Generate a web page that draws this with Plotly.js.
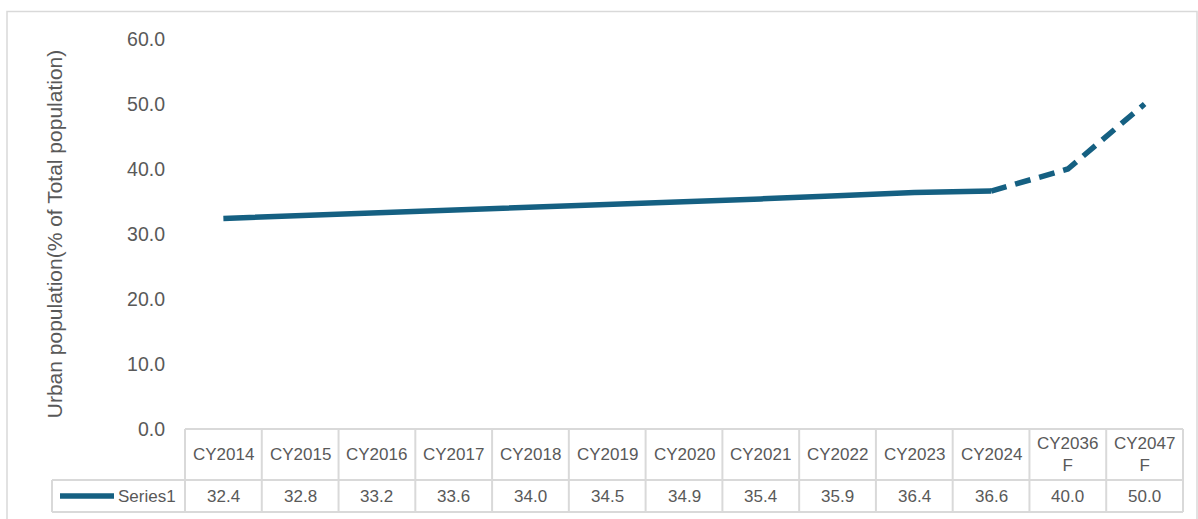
<!DOCTYPE html>
<html>
<head>
<meta charset="utf-8">
<script src="https://cdn.plot.ly/plotly-3.0.1.min.js"></script>
<style>
  html, body { margin: 0; padding: 0; background: #ffffff; }
  #chart { width: 1198px; height: 519px; }
</style>
</head>
<body>
<div id="chart"></div>
<script>
// Urban population share, actuals then forecasts (F)
const categories = ['CY2014', 'CY2015', 'CY2016', 'CY2017', 'CY2018', 'CY2019', 'CY2020',
                    'CY2021', 'CY2022', 'CY2023', 'CY2024', 'CY2036<br>F', 'CY2047<br>F'];
const values = [32.4, 32.8, 33.2, 33.6, 34.0, 34.5, 34.9, 35.4, 35.9, 36.4, 36.6, 40.0, 50.0];
const seriesName = 'Series1';
const firstForecast = 11;           // index of the first forecast point
const yTicks = [0, 10, 20, 30, 40, 50, 60];

const W = 1198, H = 519;
const M = { l: 185, r: 15, t: 39, b: 90 };
const plotW = W - M.l - M.r, plotH = H - M.t - M.b;
const px = v => (v - M.l) / plotW;            // pixel column -> paper x
const py = v => (H - M.b - v) / plotH;        // pixel row -> paper y

const lineColor = '#156082';
const gridColor = '#d9d9d9';
const textColor = '#595959';
const fontFamily = '"Liberation Sans", Arial, sans-serif';

const n = categories.length;
const idx = categories.map((_, i) => i);

// solid history + dashed forecast segment
const traces = [
  {
    x: idx.slice(0, firstForecast),
    y: values.slice(0, firstForecast),
    type: 'scatter', mode: 'lines', name: seriesName,
    line: { color: lineColor, width: 5.5 },
    hoverinfo: 'x+y'
  },
  {
    x: idx.slice(firstForecast - 1),
    y: values.slice(firstForecast - 1),
    type: 'scatter', mode: 'lines', name: seriesName,
    line: { color: lineColor, width: 5.5, dash: '16px,9px' },
    hoverinfo: 'x+y'
  }
];

// data table grid under the plot
const rowTop = H - M.b, rowMid = 480, rowBot = 512, legendLeft = 52;
const hLine = (x0, x1, y) => ({ type: 'line', xref: 'paper', yref: 'paper',
  x0: px(x0), x1: px(x1), y0: py(y), y1: py(y), line: { color: gridColor, width: 2 } });
const vLineP = (xp, y0, y1) => ({ type: 'line', xref: 'paper', yref: 'paper',
  x0: xp, x1: xp, y0: py(y0), y1: py(y1), line: { color: gridColor, width: 2 } });

const shapes = [
  // outer chart frame
  { type: 'rect', xref: 'paper', yref: 'paper', x0: px(7), x1: px(1197), y0: py(11.5), y1: py(540),
    line: { color: gridColor, width: 1.5 }, layer: 'below' },
  hLine(M.l, W - M.r, rowTop),
  hLine(legendLeft, W - M.r, rowMid),
  hLine(legendLeft, W - M.r, rowBot),
  vLineP(px(legendLeft), rowMid, rowBot)
];
for (let k = 0; k <= n; k++) shapes.push(vLineP(k / n, rowTop, rowBot));
// legend key inside the table
shapes.push({ type: 'line', xref: 'paper', yref: 'paper',
  x0: px(60), x1: px(114), y0: py(496), y1: py(496),
  line: { color: lineColor, width: 5.5 } });

const tableFont = { family: fontFamily, size: 17, color: textColor };
const annotations = [];
categories.forEach((c, i) => {
  annotations.push({ x: i, xref: 'x', y: py(454.5), yref: 'paper', text: c,
    showarrow: false, xanchor: 'center', yanchor: 'middle', font: tableFont });
  annotations.push({ x: i, xref: 'x', y: py(496), yref: 'paper', text: values[i].toFixed(1),
    showarrow: false, xanchor: 'center', yanchor: 'middle', font: tableFont });
});
annotations.push({ x: px(178), xref: 'paper', y: py(496), yref: 'paper', text: seriesName,
  showarrow: false, xanchor: 'right', yanchor: 'middle', font: tableFont });

const layout = {
  width: W, height: H,
  margin: M,
  paper_bgcolor: '#ffffff', plot_bgcolor: '#ffffff',
  showlegend: false,
  font: { family: fontFamily, color: textColor },
  xaxis: {
    type: 'linear', range: [-0.5, n - 0.5],
    showticklabels: false, showgrid: false, zeroline: false, showline: false, ticks: ''
  },
  yaxis: {
    range: [0, 60], tickvals: yTicks, tickformat: '.1f',
    showgrid: false, zeroline: false, showline: false, ticks: '',
    ticklabelstandoff: 19,
    tickfont: { family: fontFamily, size: 19.5, color: textColor },
    title: { text: 'Urban population(% of Total population)', standoff: 58,
      font: { family: fontFamily, size: 21, color: textColor } }
  },
  shapes: shapes,
  annotations: annotations
};

Plotly.newPlot('chart', traces, layout, { displayModeBar: false, staticPlot: true });
</script>
</body>
</html>
